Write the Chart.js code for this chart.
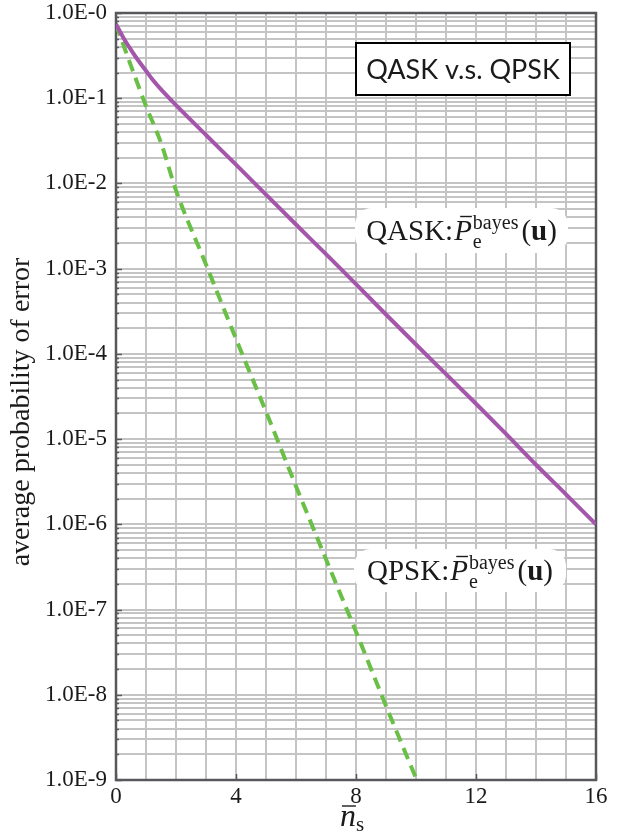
<!DOCTYPE html>
<html>
<head>
<meta charset="utf-8">
<script src="https://cdn.jsdelivr.net/npm/chart.js@4.4.1/dist/chart.umd.min.js"></script>
<style>
  html, body { margin: 0; padding: 0; background: #fff; }
  #chart-wrap { width: 629px; height: 834px; }
</style>
</head>
<body>
<div id="chart-wrap"><canvas id="chart-error" width="629" height="834"></canvas></div>
<script>
// QASK curve (solid purple)
const nsQask = [0, 0.25, 0.5, 0.75, 1, 1.25, 1.5, 2, 3, 4, 5, 6, 7, 8, 9, 10, 11, 12, 13, 14, 15, 16];
const pQask = [0.74, 0.51, 0.37, 0.275, 0.21, 0.16, 0.127, 0.083, 0.037, 0.0166, 7.4e-3, 3.3e-3, 1.48e-3, 6.6e-4,
  2.9e-4, 1.29e-4, 5.8e-5, 2.6e-5, 1.15e-5, 5.0e-6, 2.25e-6, 1.0e-6];

// QPSK curve (dashed green)
const nsQpsk = [0, 0.25, 0.5, 1, 1.5, 2, 3, 4, 5, 6, 7, 8, 9, 10];
const pQpsk = [0.74, 0.42, 0.24, 0.081, 0.030, 8.3e-3, 1.12e-3, 1.5e-4, 2.1e-5, 2.8e-6, 3.9e-7,
  5.5e-8, 7.4e-9, 1.05e-9];

// axes
const xTicks = [0, 4, 8, 12, 16];
const xTickLabels = ["0", "4", "8", "12", "16"];
const yDecades = [-9, -8, -7, -6, -5, -4, -3, -2, -1, 0];
const yTickLabels = ["1.0E-9", "1.0E-8", "1.0E-7", "1.0E-6", "1.0E-5", "1.0E-4", "1.0E-3", "1.0E-2", "1.0E-1", "1.0E-0"];

const textColor = "#1a1a1a";
const axisColor = "#58585c";
const serif = "'Liberation Serif', 'Times New Roman', serif";

function toPoints(xs, ys) {
  return xs.map((x, i) => ({ x: x, y: ys[i] }));
}

// draws a row of text pieces centered on cx
function drawPieces(ctx, pieces, cx, baseline) {
  let total = 0;
  pieces.forEach((p) => {
    ctx.font = p.font;
    p.w = ctx.measureText(p.text).width;
    if (p.sub) {
      ctx.font = p.sub.font;
      p.w = Math.max(p.w, ctx.measureText(p.sub.text).width);
    }
    total += p.w + (p.gap || 0);
  });
  let x = cx - total / 2;
  ctx.fillStyle = textColor;
  ctx.textAlign = "left";
  ctx.textBaseline = "alphabetic";
  pieces.forEach((p) => {
    ctx.font = p.font;
    ctx.fillText(p.text, x, baseline + (p.dy || 0));
    if (p.bar) {
      const w = ctx.measureText(p.text).width;
      ctx.strokeStyle = textColor;
      ctx.lineWidth = 1.4;
      ctx.beginPath();
      ctx.moveTo(x + p.bar[0], baseline + p.bar[1]);
      ctx.lineTo(x + w - p.bar[2], baseline + p.bar[1]);
      ctx.stroke();
    }
    if (p.sub) {
      ctx.font = p.sub.font;
      ctx.fillText(p.sub.text, x + (p.sub.dx || 0), baseline + p.sub.dy);
    }
    x += p.w + (p.gap || 0);
  });
}

function roundBox(ctx, x, y, w, h, r) {
  ctx.beginPath();
  ctx.moveTo(x + r, y);
  ctx.arcTo(x + w, y, x + w, y + h, r);
  ctx.arcTo(x + w, y + h, x, y + h, r);
  ctx.arcTo(x, y + h, x, y, r);
  ctx.arcTo(x, y, x + w, y, r);
  ctx.closePath();
}

function curveLabel(ctx, name, x, y, w, h) {
  ctx.save();
  ctx.fillStyle = "#ffffff";
  roundBox(ctx, x, y, w, h, 17);
  ctx.fill();
  const pieces = [
    { text: name + ":", font: "29px " + serif, gap: 1 },
    { text: "P", font: "italic 29px " + serif, bar: [6, -23, 0], gap: 1 },
    { text: "bayes", font: "20px " + serif, dy: -11, sub: { text: "e", font: "20px " + serif, dy: 8, dx: 0 }, gap: 3 },
    { text: "(", font: "29px " + serif },
    { text: "u", font: "bold 29px " + serif },
    { text: ")", font: "29px " + serif },
  ];
  drawPieces(ctx, pieces, x + w / 2, y + h / 2 + 9);
  ctx.restore();
}

const decorPlugin = {
  id: "decor",
  beforeDatasetsDraw(chart) {
    const ctx = chart.ctx;
    const a = chart.chartArea;
    const xs = chart.scales.x;
    const ys = chart.scales.y;
    ctx.save();
    ctx.strokeStyle = axisColor;
    ctx.lineWidth = 1.5;
    // inward tick marks on the left axis
    ys.ticks.forEach((t) => {
      const py = Math.round(ys.getPixelForValue(t.value)) + 0.5;
      const len = t.label ? 6 : 3;
      ctx.beginPath();
      ctx.moveTo(a.left, py);
      ctx.lineTo(a.left + len, py);
      ctx.stroke();
    });
    // inward tick marks on the bottom axis
    xTicks.forEach((v) => {
      const px = Math.round(xs.getPixelForValue(v)) + 0.5;
      ctx.beginPath();
      ctx.moveTo(px, a.bottom);
      ctx.lineTo(px, a.bottom - 6);
      ctx.stroke();
    });
    // frame
    ctx.lineWidth = 2.5;
    ctx.strokeRect(a.left, a.top, a.right - a.left, a.bottom - a.top);
    ctx.restore();
  },
  afterDatasetsDraw(chart) {
    const ctx = chart.ctx;
    curveLabel(ctx, "QASK", 355, 208, 213, 45);
    curveLabel(ctx, "QPSK", 354, 549, 212, 43);
  },
  afterDraw(chart) {
    const ctx = chart.ctx;
    ctx.save();
    // boxed title
    ctx.fillStyle = "#ffffff";
    ctx.fillRect(356, 43, 214, 52);
    ctx.strokeStyle = "#000000";
    ctx.lineWidth = 2;
    ctx.strokeRect(356, 43, 214, 52);
    ctx.font = "27px Lato, 'Open Sans', sans-serif";
    ctx.fillStyle = textColor;
    ctx.textAlign = "center";
    ctx.textBaseline = "middle";
    ctx.fillText("QASK v.s. QPSK", 463, 70);

    // y axis title
    ctx.save();
    ctx.translate(22, 412);
    ctx.rotate(-Math.PI / 2);
    ctx.font = "28px " + serif;
    ctx.textAlign = "center";
    ctx.textBaseline = "middle";
    ctx.fillText("average probability of error", 0, 0);
    ctx.restore();

    // x axis title: n-bar with subscript s
    drawPieces(ctx, [
      { text: "n", font: "italic 32px " + serif, bar: [2, -20, 0], gap: 0 },
      { text: "s", font: "21px " + serif, dy: 5 },
    ], 352, 826);
    ctx.restore();
  },
};

var ctx = document.getElementById("chart-error").getContext("2d");
var chart = new Chart(ctx, {
  type: "line",
  data: {
    datasets: [
      {
        label: "QASK",
        data: toPoints(nsQask, pQask),
        borderColor: "#a456ab",
        borderWidth: 4,
        pointRadius: 0,
        cubicInterpolationMode: "monotone",
        fill: false,
      },
      {
        label: "QPSK",
        data: toPoints(nsQpsk, pQpsk),
        borderColor: "#6abf47",
        borderWidth: 4,
        borderDash: [12, 7],
        pointRadius: 0,
        cubicInterpolationMode: "monotone",
        fill: false,
      },
    ],
  },
  options: {
    responsive: false,
    animation: false,
    devicePixelRatio: 1,
    layout: {
      padding: { left: 0, top: 13, right: 33, bottom: 0 },
    },
    plugins: {
      legend: { display: false },
      tooltip: { enabled: false },
    },
    scales: {
      x: {
        type: "linear",
        min: 0,
        max: 16,
        afterFit(scale) {
          scale.height = 54;
          scale.paddingLeft = 0;
          scale.paddingRight = 0;
        },
        border: { display: false },
        grid: {
          color: "#c4c4c4",
          lineWidth: 2,
          drawTicks: false,
        },
        ticks: {
          stepSize: 1,
          autoSkip: false,
          maxRotation: 0,
          padding: 3,
          color: textColor,
          font: { size: 23, family: serif },
          callback: function (value) {
            const i = xTicks.indexOf(value);
            return i >= 0 ? xTickLabels[i] : "";
          },
        },
      },
      y: {
        type: "logarithmic",
        min: 1e-9,
        max: 1,
        afterFit(scale) {
          scale.width = 116;
          scale.paddingTop = 0;
          scale.paddingBottom = 0;
        },
        afterBuildTicks(scale) {
          const ticks = [];
          for (let k = -9; k < 0; k++) {
            for (let m = 1; m <= 9; m++) {
              ticks.push({ value: m * Math.pow(10, k) });
            }
          }
          ticks.push({ value: 1 });
          scale.ticks = ticks;
        },
        border: { display: false },
        grid: {
          color: "#c4c4c4",
          lineWidth: 2,
          drawTicks: false,
        },
        ticks: {
          autoSkip: false,
          padding: 9,
          color: textColor,
          font: { size: 23, family: serif },
          callback: function (value) {
            const e = Math.log10(value);
            const k = Math.round(e);
            if (Math.abs(e - k) > 1e-6) return "";
            const i = yDecades.indexOf(k);
            return i >= 0 ? yTickLabels[i] : "";
          },
        },
      },
    },
  },
  plugins: [decorPlugin],
});
</script>
</body>
</html>
